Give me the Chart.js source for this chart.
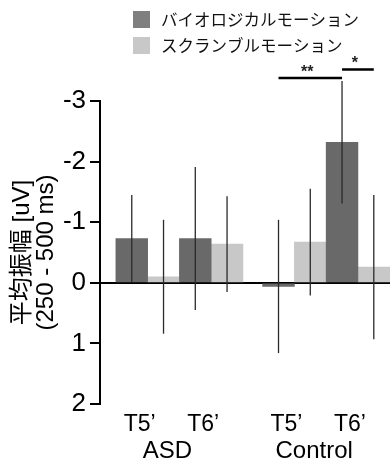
<!DOCTYPE html>
<html>
<head>
<meta charset="utf-8">
<script src="https://cdn.jsdelivr.net/npm/chart.js@4.4.1/dist/chart.umd.min.js"></script>
<style>
  html, body { margin: 0; padding: 0; background: #fff; }
  #wrap { position: relative; width: 390px; height: 465px; }
</style>
</head>
<body>
<div id="wrap"><canvas id="chartAmp"></canvas></div>
<script>
// === データ ===
const groups = ['ASD', 'Control'];
const conditions = ['T5’', 'T6’'];
const seriesNames = ['バイオロジカルモーション', 'スクランブルモーション'];
// 平均振幅 [uV]  順番: ASD T5', ASD T6', Control T5', Control T6'
const bioMean = [-0.73, -0.73, 0.06, -2.32];
const bioErr = [0.72, 1.18, 1.10, 1.01];
const scrMean = [-0.10, -0.64, -0.67, -0.26];
const scrErr = [0.94, 0.79, 0.88, 1.19];
const yTicks = [-3, -2, -1, 0, 1, 2];
// 有意差 [dataset, index]
const sigMarks = [
  { from: [0, 2], to: [0, 3], label: '**', level: -3.38 },
  { from: [0, 3], to: [1, 3], label: '*', level: -3.52 }
];

// === スタイル ===
const FONT = "'Liberation Sans', 'Noto Sans CJK JP', sans-serif";
const barColors = ['#696969', '#c8c8c8'];
const legendColors = ['#7f7f7f', '#c8c8c8'];
const groupGap = 0.31;

// 群ごとに少し間を空けた位置
const xPos = [];
groups.forEach((g, gi) => {
  conditions.forEach((c, ci) => xPos.push(gi * (conditions.length + groupGap) + ci));
});
const groupPos = groups.map((g, gi) => {
  const p = xPos.slice(gi * conditions.length, (gi + 1) * conditions.length);
  return p.reduce((a, b) => a + b, 0) / p.length;
});
const xMin = -0.75, xMax = xPos[xPos.length - 1] + 0.505;

const means = [bioMean, scrMean];
const errs = [bioErr, scrErr];

// 誤差線
const errorBars = {
  id: 'errorBars',
  afterDatasetsDraw(chart) {
    const { ctx } = chart;
    const y = chart.scales.y;
    ctx.save();
    ctx.strokeStyle = '#2a2a2a';
    ctx.lineWidth = 1.3;
    means.forEach((m, di) => {
      chart.getDatasetMeta(di).data.forEach((bar, i) => {
        ctx.beginPath();
        ctx.moveTo(bar.x, y.getPixelForValue(m[i] - errs[di][i]));
        ctx.lineTo(bar.x, y.getPixelForValue(m[i] + errs[di][i]));
        ctx.stroke();
      });
    });
    ctx.restore();
  }
};

// 有意差の線と凡例
const extras = {
  id: 'extras',
  afterDraw(chart) {
    const { ctx } = chart;
    const y = chart.scales.y;
    ctx.save();
    sigMarks.forEach(s => {
      const x1 = chart.getDatasetMeta(s.from[0]).data[s.from[1]].x;
      const x2 = chart.getDatasetMeta(s.to[0]).data[s.to[1]].x;
      const py = y.getPixelForValue(s.level);
      ctx.strokeStyle = '#000';
      ctx.lineWidth = 2.5;
      ctx.beginPath();
      ctx.moveTo(x1, py);
      ctx.lineTo(x2, py);
      ctx.stroke();
      ctx.fillStyle = '#222';
      ctx.font = 'bold 16px ' + FONT;
      ctx.textAlign = 'center';
      ctx.textBaseline = 'alphabetic';
      ctx.fillText(s.label, (x1 + x2) / 2 - 3, py - 1);
    });

    ctx.font = "16.5px 'Noto Sans CJK JP'";
    ctx.textAlign = 'left';
    ctx.textBaseline = 'middle';
    chart.data.datasets.forEach((ds, i) => {
      const top = 11 + i * 26;
      ctx.fillStyle = legendColors[i];
      ctx.fillRect(133, top, 17, 17);
      ctx.fillStyle = '#111';
      ctx.fillText(ds.label, 161, top + 9);
    });
    ctx.restore();
  }
};

new Chart(document.getElementById('chartAmp'), {
  type: 'bar',
  data: {
    datasets: means.map((m, di) => ({
      label: seriesNames[di],
      data: m.map((v, i) => ({ x: xPos[i], y: v })),
      backgroundColor: barColors[di],
      borderWidth: 0,
      barPercentage: 1,
      categoryPercentage: 1
    }))
  },
  options: {
    responsive: true,
    maintainAspectRatio: false,
    animation: false,
    layout: { padding: { top: 101, left: 0, right: 0, bottom: 0 } },
    plugins: {
      legend: { display: false },
      tooltip: { enabled: false }
    },
    scales: {
      x: {
        type: 'linear',
        min: xMin,
        max: xMax,
        offset: false,
        weight: 0,
        afterBuildTicks: s => { s.ticks = xPos.map(v => ({ value: v })); },
        afterFit: s => { s.height = 31; },
        border: { display: false },
        grid: { display: false, drawTicks: false, offset: false },
        ticks: {
          autoSkip: false,
          maxRotation: 0,
          padding: 7,
          labelOffset: -8,
          color: '#000',
          font: { size: 23, family: FONT },
          callback: (v, i) => conditions[i % conditions.length]
        }
      },
      x2: {
        type: 'linear',
        position: 'bottom',
        min: xMin,
        max: xMax,
        offset: false,
        weight: 1,
        afterBuildTicks: s => { s.ticks = groupPos.map(v => ({ value: v })); },
        afterFit: s => { s.height = 30; },
        border: { display: false },
        grid: { display: false, drawTicks: false, offset: false },
        ticks: {
          autoSkip: false,
          maxRotation: 0,
          padding: 2,
          labelOffset: -12,
          color: '#000',
          font: { size: 24, family: FONT },
          callback: (v, i) => groups[i]
        }
      },
      y: {
        reverse: true,
        min: -3,
        max: 2,
        z: 1,
        afterBuildTicks: s => { s.ticks = yTicks.map(v => ({ value: v })); },
        afterFit: s => { s.width = 100; },
        border: { color: '#000', width: 2 },
        grid: {
          color: c => (c.tick && c.tick.value === 0 ? '#000' : 'rgba(0,0,0,0)'),
          lineWidth: 2,
          tickLength: 10,
          tickColor: '#000',
          tickWidth: 2
        },
        ticks: { color: '#000', padding: 4, font: { size: 26, family: FONT } },
        title: {
          display: true,
          text: ['平均振幅 [uV]', '(250 - 500 ms)'],
          color: '#000',
          font: { size: 24, family: FONT, lineHeight: 1 },
          padding: { top: 10, bottom: 0 }
        }
      }
    }
  },
  plugins: [errorBars, extras]
});
</script>
</body>
</html>
